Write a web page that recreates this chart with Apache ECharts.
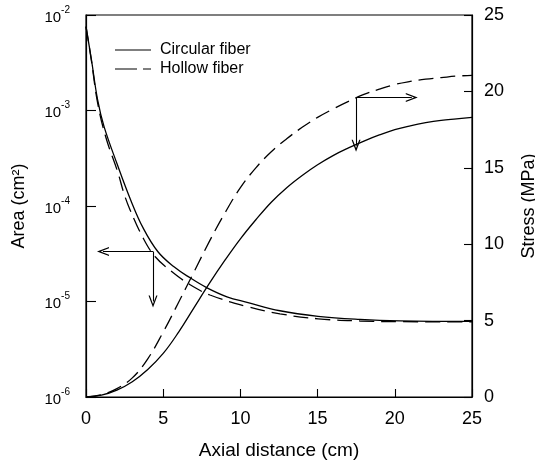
<!DOCTYPE html>
<html>
<head>
<meta charset="utf-8">
<script src="https://cdn.jsdelivr.net/npm/echarts@6/dist/echarts.min.js"></script>
<style>html,body{margin:0;padding:0;background:#fff}#c{width:535px;height:464px}</style>
</head>
<body>
<div id="c"></div>
<script>
// ---- data ----
const seriesNames = ['Circular fiber', 'Hollow fiber'];
const xTicks = [0, 5, 10, 15, 20, 25];
const stressTicks = [0, 5, 10, 15, 20, 25];

// Area (cm^2), circular fiber
const areaCircX = [0, 0.35, 0.75, 1.17, 2.01, 2.9, 3.69, 4.66, 5.7, 6.74, 7.84, 9.13, 10.43, 12.56, 15.03, 17.75, 20.34, 25];
const areaCirc  = [7.57e-3, 3.42e-3, 1.30e-3, 6.78e-4, 2.77e-4, 1.15e-4, 5.93e-5, 3.32e-5, 2.31e-5, 1.77e-5, 1.39e-5, 1.12e-5, 9.8e-6, 8.0e-6, 7.0e-6, 6.5e-6, 6.28e-6, 6.2e-6];
// Area (cm^2), hollow fiber
const areaHollX = [0, 0.35, 0.75, 1.28, 2.07, 2.46, 2.85, 3.69, 4.47, 5.57, 6.74, 8.03, 10.41, 12.56, 15.03, 17.75, 20.34, 25];
const areaHoll  = [7.57e-3, 3.33e-3, 1.21e-3, 5.28e-4, 2.23e-4, 1.35e-4, 9.15e-5, 4.66e-5, 2.96e-5, 2.05e-5, 1.50e-5, 1.17e-5, 8.87e-6, 7.43e-6, 6.59e-6, 6.25e-6, 6.15e-6, 6.12e-6];
// Stress (MPa)
const stressX    = [0, 1, 2, 3, 4, 5, 6, 7, 8, 9, 10, 11, 12, 13, 14, 15, 16, 17, 18, 19, 20, 21, 22, 23, 24, 25];
const stressCirc = [0, 0.12, 0.45, 1.0, 1.8, 2.85, 4.25, 5.85, 7.45, 8.95, 10.35, 11.6, 12.75, 13.7, 14.5, 15.2, 15.8, 16.3, 16.75, 17.15, 17.5, 17.75, 17.95, 18.1, 18.2, 18.3];
const stressHoll = [0, 0.15, 0.55, 1.25, 2.5, 4.25, 6.2, 8.2, 10.2, 12.05, 13.7, 15.0, 16.05, 16.9, 17.65, 18.3, 18.85, 19.35, 19.8, 20.15, 20.45, 20.65, 20.8, 20.9, 21.0, 21.05];

// annotation arrows (data coordinates)
const areaArrowCorner = [4.34, 3.34e-5];
const areaArrowLeftEnd = [1.1, 3.34e-5];
const areaArrowDownEnd = [4.34, 1.0e-5];
const stressArrowCorner = [17.49, 19.6];
const stressArrowRightEnd = [21.1, 19.6];
const stressArrowDownEnd = [17.49, 16.45];

// ---- chart ----
const FONT = '"Liberation Sans", Arial, sans-serif';
const BLACK = '#000';
const pairs = (xs, ys) => xs.map((x, i) => [x, ys[i]]);
const arrowHead = 'path://M5,0 L10,12 L8.6,12 L5,3.6 L1.4,12 L0,12 Z';
const solidIcon = 'path://M0,0 L36,0 L36,1 L0,1 Z';
const dashIcon = 'path://M0,0 L22,0 L22,1 L0,1 Z M28,0 L36,0 L36,1 L28,1 Z';

function arrows(corner, end1, end2) {
  return {
    silent: true,
    animation: false,
    symbol: ['none', arrowHead],
    symbolSize: [9, 12],
    label: { show: false },
    lineStyle: { color: BLACK, width: 1.1, type: 'solid' },
    emphasis: { disabled: true },
    data: [
      [{ coord: corner }, { coord: end1 }],
      [{ coord: corner }, { coord: end2 }]
    ]
  };
}

const chart = echarts.init(document.getElementById('c'), null, { renderer: 'canvas' });
chart.setOption({
  animation: false,
  backgroundColor: '#fff',
  textStyle: { fontFamily: FONT, color: BLACK },
  grid: { left: 86, right: 63, top: 15, bottom: 67, show: true, borderColor: BLACK, borderWidth: 1.2,
          backgroundColor: 'transparent', containLabel: false, outerBoundsMode: 'none' },
  legend: {
    orient: 'vertical',
    left: 110, top: 37,
    itemWidth: 36, itemHeight: 1.2, itemGap: 3,
    data: [
      { name: seriesNames[0], icon: solidIcon },
      { name: seriesNames[1], icon: dashIcon }
    ],
    itemStyle: { color: BLACK, borderWidth: 0 },
    textStyle: { fontFamily: FONT, fontSize: 16, color: BLACK, padding: [0, 0, 0, 4] },
    inactiveColor: BLACK,
    selectedMode: false
  },
  xAxis: {
    type: 'value', min: 0, max: 25, interval: 5,
    name: 'Axial distance (cm)', nameLocation: 'middle', nameGap: 44,
    nameTextStyle: { fontFamily: FONT, fontSize: 19, color: BLACK },
    axisLine: { show: true, lineStyle: { color: BLACK, width: 1.2 } },
    axisTick: { show: true, inside: true, length: 8, lineStyle: { color: BLACK, width: 1.1 } },
    axisLabel: { fontFamily: FONT, fontSize: 18, color: BLACK, margin: 13,
      formatter: v => xTicks.includes(v) ? String(v) : '' },
    splitLine: { show: false }
  },
  yAxis: [
    {
      type: 'log', logBase: 10, min: 1e-6, max: 1e-2,
      name: 'Area (cm²)', nameLocation: 'middle', nameGap: 58,
      nameTextStyle: { fontFamily: FONT, fontSize: 18, color: BLACK },
      axisLine: { show: true, lineStyle: { color: BLACK, width: 1.2 } },
      axisTick: { show: true, inside: true, length: 10, lineStyle: { color: BLACK, width: 1.1 } },
      minorTick: { show: false },
      axisLabel: {
        margin: 16,
        formatter: v => '{b|10}{s|' + Math.round(Math.log10(v)) + '}',
        rich: {
          b: { fontFamily: FONT, fontSize: 15, color: BLACK, lineHeight: 20, verticalAlign: 'bottom' },
          s: { fontFamily: FONT, fontSize: 10, color: BLACK, lineHeight: 12, verticalAlign: 'top' }
        }
      },
      splitLine: { show: false }
    },
    {
      type: 'value', min: 0, max: 25, interval: 5, position: 'right',
      name: 'Stress (MPa)', nameLocation: 'middle', nameGap: 48,
      nameTextStyle: { fontFamily: FONT, fontSize: 18, color: BLACK },
      axisLine: { show: true, lineStyle: { color: BLACK, width: 1.2 } },
      axisTick: { show: true, inside: true, length: 8, lineStyle: { color: BLACK, width: 1.1 } },
      axisLabel: { fontFamily: FONT, fontSize: 18, color: BLACK, margin: 12,
        formatter: v => stressTicks.includes(v) ? String(v) : '' },
      splitLine: { show: false }
    }
  ],
  series: [
    {
      name: seriesNames[0], type: 'line', yAxisIndex: 0, smooth: 0.4, symbol: 'none',
      data: pairs(areaCircX, areaCirc),
      lineStyle: { color: BLACK, width: 1.3, type: 'solid' }, itemStyle: { color: BLACK },
      markLine: arrows(areaArrowCorner, areaArrowLeftEnd, areaArrowDownEnd)
    },
    {
      name: seriesNames[1], type: 'line', yAxisIndex: 0, smooth: 0.4, symbol: 'none',
      data: pairs(areaHollX, areaHoll),
      lineStyle: { color: BLACK, width: 1.3, type: [15, 7] }, itemStyle: { color: BLACK }
    },
    {
      name: seriesNames[0], type: 'line', yAxisIndex: 1, smooth: 0.4, symbol: 'none',
      data: pairs(stressX, stressCirc),
      lineStyle: { color: BLACK, width: 1.3, type: 'solid' }, itemStyle: { color: BLACK },
      markLine: arrows(stressArrowCorner, stressArrowRightEnd, stressArrowDownEnd)
    },
    {
      name: seriesNames[1], type: 'line', yAxisIndex: 1, smooth: 0.4, symbol: 'none',
      data: pairs(stressX, stressHoll),
      lineStyle: { color: BLACK, width: 1.3, type: [15, 7] }, itemStyle: { color: BLACK }
    }
  ]
});
</script>
</body>
</html>
